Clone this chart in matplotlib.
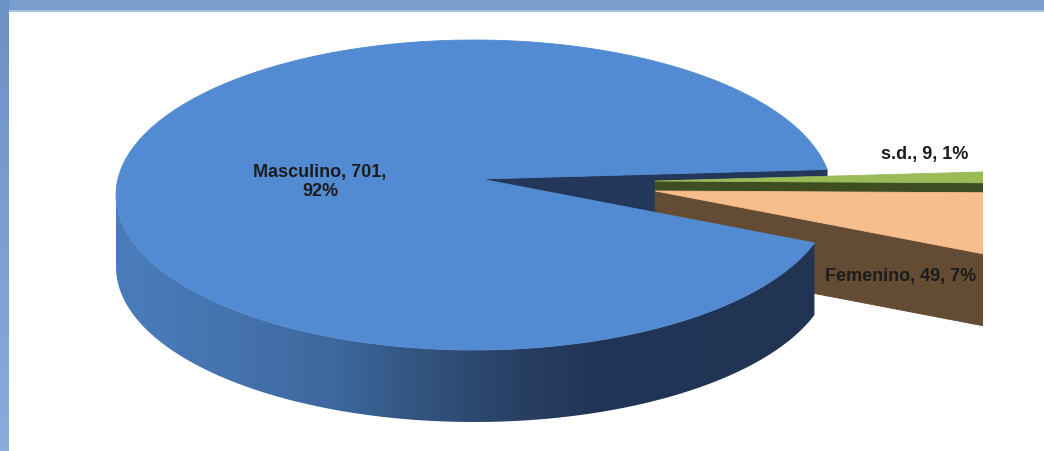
import numpy as np
import matplotlib.pyplot as plt
from matplotlib.patches import Polygon, Rectangle
from matplotlib.colors import LinearSegmentedColormap

# datos
labels = ['Masculino', 'Femenino', 's.d.']
counts = np.array([701, 49, 9])
pct_labels = ['92%', '7%', '1%']
explode = [0.0, 0.49, 0.49]

top_colors = ['#538bd2', '#f7be8d', '#9bbb59']
cut_colors = ['#22375a', '#634b34', '#3f4e22']

# geometria del pastel (pixeles)
W, H = 1044, 451
cx, cy = 474, 195
rx, ry = 358, 155
depth = 72
hub_dx, hub_dy = 7, -16
ey = 85
drop = 15
start = 9.5

spans = 360 * counts / counts.sum()
starts = start + np.concatenate([[0], np.cumsum(spans)[:-1]])

fig = plt.figure(figsize=(W / 100, H / 100), dpi=100)
ax = fig.add_axes([0, 0, 1, 1])
ax.axis('off')

plot_area = Rectangle((9, 11), 983 - 9, H - 11, transform=ax.transData)


def rim(t, ox, oy, dz=0.0):
    t = np.radians(np.atleast_1d(t))
    return np.column_stack([cx + ox + rx * np.cos(t), cy + oy - ry * np.sin(t) + dz])


def hub(ox, oy, dz=0.0):
    return np.array([[cx + hub_dx + ox, cy + hub_dy + oy + dz]])


def add(poly, color, z):
    p = Polygon(poly, closed=True, facecolor=color, edgecolor=color, lw=0.6, zorder=z)
    ax.add_patch(p)
    p.set_clip_path(plot_area)
    return p


side_cmap = LinearSegmentedColormap.from_list('side', [
    (0.0, '#4a7cbc'), (0.14, '#4674b0'), (0.30, '#3e689e'),
    (0.42, '#325580'), (0.56, '#284064'), (0.67, '#233556'), (1.0, '#223454')])

for i in range(len(counts)):
    a0, a1 = starts[i], starts[i] + spans[i]
    mid = np.radians((a0 + a1) / 2)
    ox = explode[i] * rx * np.cos(mid)
    oy = -explode[i] * ey * np.sin(mid) + explode[i] * drop
    z = {0: 1, 1: 3, 2: 2}[i]

    # caras de corte visibles
    if np.cos(np.radians(a0)) > 0:
        face = np.vstack([hub(ox, oy), rim(a0, ox, oy), rim(a0, ox, oy, depth), hub(ox, oy, depth)])
        add(face, cut_colors[i], z)
    if np.cos(np.radians(a1)) < 0:
        face = np.vstack([hub(ox, oy), rim(a1, ox, oy), rim(a1, ox, oy, depth), hub(ox, oy, depth)])
        add(face, cut_colors[i], z)

    # lateral exterior: solo la mitad delantera (180..360)
    lo = max(a0, 180) if a0 < 360 else max(a0, 540)
    hi = min(a1, 360) if a0 < 360 else min(a1, 720)
    if hi > lo:
        t = np.linspace(lo, hi, 200)
        side = np.vstack([rim(t, ox, oy), rim(t[::-1], ox, oy, depth)])
        zs = 4 if i == 0 else z
        if i == 0:
            patch = add(side, 'none', zs)
            patch.set_edgecolor('none')
            grad = np.linspace(0, 1, 400).reshape(1, -1)
            im = ax.imshow(grad, cmap=side_cmap, aspect='auto', zorder=zs,
                           extent=(cx - rx, cx + rx, cy + ry + depth + 5, cy - 5),
                           interpolation='bilinear')
            im.set_clip_path(patch)
        else:
            add(side, cut_colors[i], zs)

    # cara superior
    t = np.linspace(a0, a1, 400)
    top = np.vstack([hub(ox, oy), rim(t, ox, oy)])
    add(top, top_colors[i], 4 if i == 0 else z)

# etiquetas
txt = dict(fontsize=13, fontweight='bold', family='Liberation Sans',
           color='#1c1c1c', ha='center', va='center', zorder=6)
ax.text(320, 182, f'{labels[0]}, {counts[0]},\n{pct_labels[0]}', linespacing=1.15, **txt)
ax.text(901, 277, f'{labels[1]}, {counts[1]}, {pct_labels[1]}', **txt)
ax.text(925, 154, f'{labels[2]}, {counts[2]}, {pct_labels[2]}', **txt)

# marco azul superior e izquierdo
ax.add_patch(Rectangle((0, 0), W, 10, facecolor='#7a9ece', edgecolor='none', zorder=10))
ax.add_patch(Rectangle((0, 10), W, 1.5, facecolor='#aac2e3', edgecolor='none', zorder=10))
frame_cmap = LinearSegmentedColormap.from_list('frame', ['#6b91c5', '#89acdb'])
ax.imshow(np.linspace(0, 1, 100).reshape(-1, 1), cmap=frame_cmap, aspect='auto',
          extent=(0, 9, H, 0), zorder=11)

ax.set_xlim(0, W)
ax.set_ylim(H, 0)
ax.set_aspect('auto')

fig.savefig('out.png', dpi=100, facecolor='white')
